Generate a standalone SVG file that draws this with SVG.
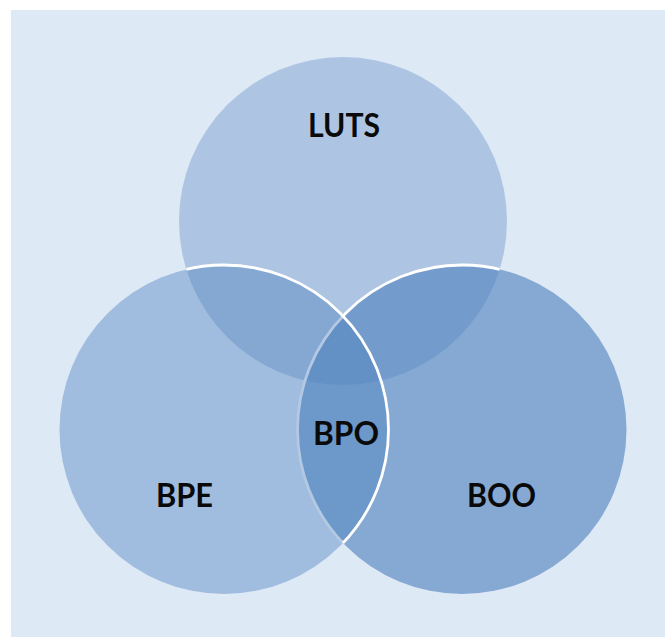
<svg xmlns="http://www.w3.org/2000/svg" width="665" height="637" viewBox="0 0 665 637">
<style>
.f{fill:rgb(79,129,189)}
.s{fill:none;stroke:#ffffff;stroke-width:2.8}
.t{font-family:Lato,"Open Sans","Liberation Sans",sans-serif;font-weight:bold;font-size:33px;fill:#0a0a0a;text-anchor:middle}
</style>
<defs>
<clipPath id="inLB"><circle cx="343" cy="221" r="164"/><circle cx="224" cy="429.5" r="164.5"/></clipPath>
<clipPath id="inLO"><circle cx="343" cy="221" r="164"/><circle cx="462" cy="429.5" r="164.5"/></clipPath>
</defs>
<rect x="0" y="0" width="665" height="637" fill="#ffffff"/>
<rect x="11" y="10" width="654" height="627" fill="#dee9f6"/>
<g id="luts"><circle class="f" cx="343" cy="221" r="164" fill-opacity="0.34"/></g>
<g id="boo">
<circle class="f" cx="462" cy="429.5" r="164.5" fill-opacity="0.62"/>
<circle class="s" cx="462" cy="429.5" r="164.5" clip-path="url(#inLB)"/>
</g>
<g id="bpe">
<circle class="f" cx="224" cy="429.5" r="164.5" fill-opacity="0.43"/>
<circle class="s" cx="224" cy="429.5" r="164.5" clip-path="url(#inLO)"/>
</g>
<g id="labels">
<text class="t" x="344" y="137" textLength="72" lengthAdjust="spacingAndGlyphs">LUTS</text>
<text class="t" x="184.5" y="507" textLength="57" lengthAdjust="spacingAndGlyphs">BPE</text>
<text class="t" x="501.5" y="507" textLength="69" lengthAdjust="spacingAndGlyphs">BOO</text>
<text class="t" x="346" y="445" textLength="66" lengthAdjust="spacingAndGlyphs">BPO</text>
</g>
</svg>
